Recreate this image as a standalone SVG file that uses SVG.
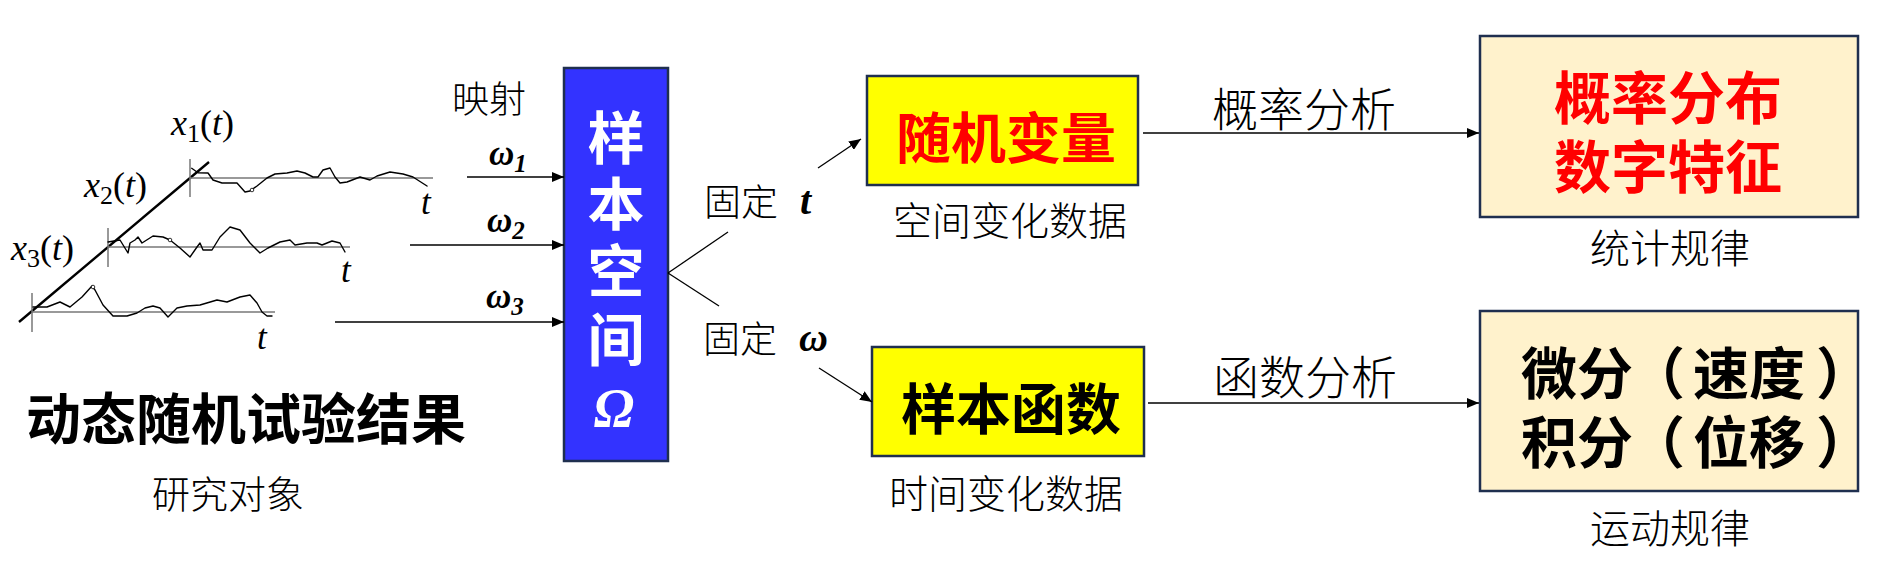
<svg xmlns="http://www.w3.org/2000/svg" width="1885" height="578" viewBox="0 0 1885 578">
<defs>
<marker id="ah" viewBox="0 0 12 10" markerWidth="12" markerHeight="10" refX="12" refY="5" orient="auto" markerUnits="userSpaceOnUse">
<path d="M0,0 L12,5 L0,10 z" fill="#000"/>
</marker>
</defs>
<style>
.cjk{font-family:"Noto Sans CJK SC","Noto Sans CJK JP",sans-serif;dominant-baseline:central;text-anchor:middle;}
.lbl{fill:#000;font-weight:300;}
.bold{font-weight:bold;}
.ser{font-family:"Liberation Serif","DejaVu Serif",serif;}
.it{font-style:italic;}
.bi{font-style:italic;font-weight:bold;}
.axis{stroke:#777;stroke-width:1.5;fill:none;}
.curve{stroke:#000;stroke-width:1.4;fill:none;stroke-linejoin:round;stroke-linecap:round;}
.conn{stroke:#000;stroke-width:1.6;fill:none;}
.thin{stroke:#000;stroke-width:1.3;fill:none;}
.box{stroke:#1F2F4F;stroke-width:2.5;}
</style>
<rect width="1885" height="578" fill="#fff"/>

<g id="sample-paths">
<line x1="19" y1="322" x2="209" y2="162" stroke="#000" stroke-width="2.4"/>
<line class="axis" x1="190" y1="159" x2="190" y2="197"/>
<line class="axis" x1="190" y1="178" x2="433" y2="178"/>
<line class="axis" x1="108" y1="228" x2="108" y2="267"/>
<line class="axis" x1="108" y1="247" x2="350" y2="247"/>
<line class="axis" x1="32" y1="293" x2="32" y2="332"/>
<line class="axis" x1="32" y1="312" x2="275" y2="312"/>
<polyline class="curve" points="191.7,168.3 198,172.7 208,173 213,180 222,183 237,183 245,192 250,191 257,186 267,178 275,174 287,173 297,171 305,173 313,177 318,177 323,170 330,168 335,177 340,183 347,182 360,177 370,180 377,176 390,172 403,174 413,177 427,186"/>
<polyline class="curve" points="108,242 120,240 128,253 130,243 135,240 138,237 142,243 153,236 163,237 170,240 180,248 190,257 197,247 200,243 203,250 212,250 220,237 230,227 240,230 250,243 260,253 268,248 280,242 290,240 295,245 307,243 317,243 322,245 332,241 340,243 345,252"/>
<polyline class="curve" points="33,307 47,307 60,302 70,307 82,297 92,286 95,290 103,305 113,316 127,316 137,313 145,308 153,306 160,308 168,317 177,308 187,306 200,305 217,300 227,302 240,297 250,295 257,303 262,312 267,316 272,316"/>
<circle cx="252" cy="190" r="1.8" fill="#fff" stroke="#000" stroke-width="0.8"/>
<circle cx="170" cy="240" r="1.8" fill="#fff" stroke="#000" stroke-width="0.8"/>
<circle cx="93" cy="287" r="1.8" fill="#fff" stroke="#000" stroke-width="0.8"/>
<text class="ser" x="171" y="135" font-size="36"><tspan class="it">x</tspan><tspan font-size="26" dy="7">1</tspan><tspan dy="-7">(</tspan><tspan class="it">t</tspan>)</text>
<text class="ser" x="84" y="197" font-size="36"><tspan class="it">x</tspan><tspan font-size="26" dy="7">2</tspan><tspan dy="-7">(</tspan><tspan class="it">t</tspan>)</text>
<text class="ser" x="11" y="260" font-size="36"><tspan class="it">x</tspan><tspan font-size="26" dy="7">3</tspan><tspan dy="-7">(</tspan><tspan class="it">t</tspan>)</text>
<text class="ser it" x="421" y="214" font-size="35">t</text>
<text class="ser it" x="341" y="282" font-size="35">t</text>
<text class="ser it" x="257" y="349" font-size="35">t</text>
</g>

<g id="title-left">
<text class="cjk bold" x="246" y="415" font-size="55">动态随机试验结果</text>
<text class="cjk lbl" x="228" y="491" font-size="38">研究对象</text>
</g>

<g id="mapping-label">
<text class="cjk lbl" x="489" y="97" font-size="37">映射</text>
<text class="ser bi" x="489" y="165" font-size="35">ω<tspan font-size="25" dy="7">1</tspan></text>
<text class="ser bi" x="487" y="232" font-size="35">ω<tspan font-size="25" dy="7">2</tspan></text>
<text class="ser bi" x="486" y="308" font-size="35">ω<tspan font-size="25" dy="7">3</tspan></text>
</g>

<g id="node-sample-space">
<rect class="box" x="564" y="68" width="104" height="393" fill="#3333FF"/>
<text class="cjk bold" x="616" y="134" font-size="57" fill="#fff">样</text>
<text class="cjk bold" x="616" y="200" font-size="57" fill="#fff">本</text>
<text class="cjk bold" x="616" y="267" font-size="57" fill="#fff">空</text>
<text class="cjk bold" x="616" y="336" font-size="57" fill="#fff">间</text>
<text class="ser bi" x="614" y="426" font-size="54" fill="#fff" text-anchor="middle">Ω</text>
</g>

<g id="branch-labels">
<text class="cjk lbl" x="741" y="200" font-size="37">固定</text>
<text class="ser bi" x="800" y="214" font-size="40">t</text>
<text class="cjk lbl" x="740" y="337" font-size="37">固定</text>
<text class="ser bi" x="799" y="351" font-size="40">ω</text>
</g>

<g id="node-random-variable">
<rect class="box" x="867" y="76" width="271" height="109" fill="#FFFF00"/>
<text class="cjk bold" x="1006" y="134" font-size="55" fill="#FF0000">随机变量</text>
<text class="cjk lbl" x="1010" y="218" font-size="39">空间变化数据</text>
</g>

<g id="node-sample-function">
<rect class="box" x="872" y="347" width="272" height="109" fill="#FFFF00"/>
<text class="cjk bold" x="1011" y="405" font-size="55" fill="#000">样本函数</text>
<text class="cjk lbl" x="1006" y="491" font-size="39">时间变化数据</text>
</g>

<g id="node-statistics">
<rect class="box" x="1480" y="36" width="378" height="181" fill="#FFF2CC"/>
<text class="cjk bold" x="1668" y="94" font-size="57" fill="#FF0000">概率分布</text>
<text class="cjk bold" x="1668" y="163" font-size="57" fill="#FF0000">数字特征</text>
<text class="cjk lbl" x="1670" y="246" font-size="40">统计规律</text>
</g>

<g id="node-motion">
<rect class="box" x="1480" y="311" width="378" height="180" fill="#FFF2CC"/>
<text class="cjk bold" y="369" font-size="56" fill="#000"><tspan x="1577">微分</tspan><tspan x="1657">（</tspan><tspan x="1749">速度</tspan><tspan x="1844">）</tspan></text>
<text class="cjk bold" y="438" font-size="56" fill="#000"><tspan x="1577">积分</tspan><tspan x="1657">（</tspan><tspan x="1749">位移</tspan><tspan x="1844">）</tspan></text>
<text class="cjk lbl" x="1670" y="526" font-size="40">运动规律</text>
</g>

<g id="edge-labels">
<text class="cjk lbl" x="1304" y="106" font-size="46">概率分析</text>
<text class="cjk lbl" x="1305" y="374" font-size="46">函数分析</text>
</g>

<g id="connectors">
<line class="conn" x1="467" y1="177" x2="564" y2="177" marker-end="url(#ah)"/>
<line class="conn" x1="410" y1="245" x2="564" y2="245" marker-end="url(#ah)"/>
<line class="conn" x1="335" y1="322" x2="564" y2="322" marker-end="url(#ah)"/>
<line class="thin" x1="668" y1="273" x2="728" y2="232"/>
<line class="thin" x1="668" y1="273" x2="719" y2="306"/>
<line class="thin" x1="818" y1="168" x2="861" y2="139" marker-end="url(#ah)"/>
<line class="thin" x1="819" y1="368" x2="872" y2="402" marker-end="url(#ah)"/>
<line class="conn" x1="1143" y1="133" x2="1479" y2="133" marker-end="url(#ah)"/>
<line class="conn" x1="1148" y1="403" x2="1479" y2="403" marker-end="url(#ah)"/>
</g>
</svg>
